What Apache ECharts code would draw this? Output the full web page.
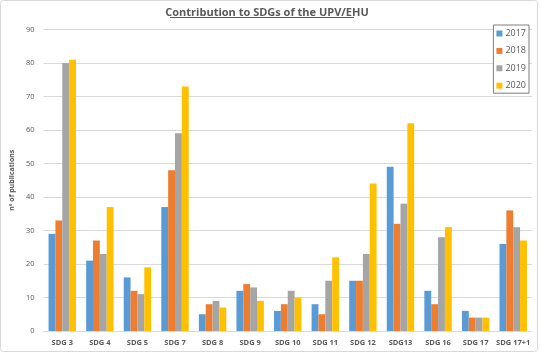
<!DOCTYPE html>
<html>
<head>
<meta charset="utf-8">
<script src="https://cdn.jsdelivr.net/npm/echarts@6/dist/echarts.min.js"></script>
<style>
html,body{margin:0;padding:0;background:#fff;}
#c{width:541px;height:353px;}
</style>
</head>
<body>
<div id="c"></div>
<script>
var categories = ['SDG 3','SDG 4','SDG 5','SDG 7','SDG 8','SDG 9','SDG 10','SDG 11','SDG 12','SDG13','SDG 16','SDG 17','SDG 17+1'];
var s2017 = [29,21,16,37,5,12,6,8,15,49,12,6,26];
var s2018 = [33,27,12,48,8,14,8,5,15,32,8,4,36];
var s2019 = [80,23,11,59,9,13,12,15,23,38,28,4,31];
var s2020 = [81,37,19,73,7,9,10,22,44,62,31,4,27];
var seriesNames = ['2017','2018','2019','2020'];
var colors = ['#5B9BD5','#ED7D31','#A5A5A5','#FFC000'];

var chart = echarts.init(document.getElementById('c'));
var data = [s2017,s2018,s2019,s2020];
chart.setOption({
  animation:false,
  color: colors,
  title: {
    text: 'Contribution to SDGs of the UPV/EHU',
    left: 262, top: 2, textAlign:'center',
    textStyle: {fontFamily:'Open Sans', fontSize: 11, fontWeight:'bold', color:'#595959'}
  },
  graphic: [
    {type:'rect', shape:{x:0.5,y:0.5,width:537,height:351,r:3}, style:{fill:'none',stroke:'#d9d9d9',lineWidth:1}, silent:true},
    {type:'line', shape:{x1:170,y1:17.5,x2:354,y2:17.5}, style:{stroke:'#595959',lineWidth:1}, silent:true}
  ],
  legend: {
    orient:'vertical', right: 12, top: 25,
    data: seriesNames,
    icon:'rect', itemWidth:6, itemHeight:6, itemGap:8.4,
    borderColor:'#7f7f7f', borderWidth:1, padding:[4,3,3,3],
    backgroundColor:'#fff',
    textStyle:{fontFamily:'Open Sans', fontSize:9, color:'#595959', padding:[0,0,0,-2]}
  },
  grid: {left:38, right:9, top:29.5, bottom:22},
  xAxis: {
    type:'category', data: categories,
    axisLine:{lineStyle:{color:'#d9d9d9'}},
    axisTick:{show:false},
    axisLabel:{fontFamily:'Open Sans', fontSize:7.5, fontWeight:'bold', color:'#595959', margin:8, interval:0}
  },
  yAxis: {
    type:'value', min:0, max:90, interval:10,
    name:'nº of publications', nameLocation:'middle', nameGap:21, nameRotate:90,
    nameTextStyle:{fontFamily:'Open Sans', fontSize:7, fontWeight:'bold', color:'#595959'},
    axisLine:{show:false}, axisTick:{show:false},
    axisLabel:{fontFamily:'Open Sans', fontSize:7.5, color:'#595959', margin:9},
    splitLine:{lineStyle:{color:'#d9d9d9'}}
  },
  series: seriesNames.map(function(n,i){
    return {name:n, type:'bar', data:data[i], barGap:'0%', barCategoryGap:'27%'};
  })
});
</script>
</body>
</html>
